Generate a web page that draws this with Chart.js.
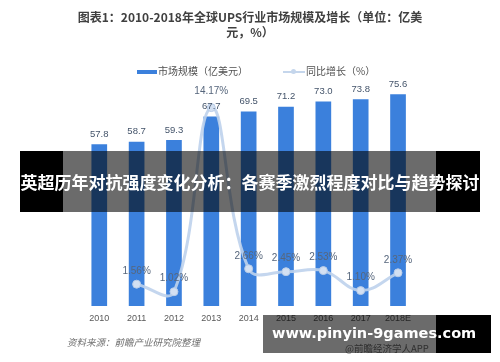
<!DOCTYPE html>
<html>
<head>
<meta charset="utf-8">
<script src="https://cdn.jsdelivr.net/npm/chart.js@4.4.1/dist/chart.umd.min.js"></script>
<style>
  body { margin: 0; background: #fff; }
  #wrap { position: relative; width: 500px; height: 362px; overflow: hidden; background: #fff;
          font-family: "Noto Sans CJK SC", "Noto Sans", sans-serif; }
  #c { position: absolute; left: 0; top: 0; }
  .title { position: absolute; left: 0; width: 500px; text-align: center; font-size: 12px;
           font-weight: bold; color: #404040; line-height: 15px; }
  .legend { position: absolute; top: 64px; font-size: 10px; color: #505050; line-height: 14px; white-space: nowrap; }
  .source { position: absolute; left: 67px; top: 335px; font-size: 9.5px; color: #707070; font-style: italic; }
  .app { position: absolute; left: 345px; top: 341px; font-size: 9.5px; color: #707070; }
  .banner-black { position: absolute; background: #000; }
  .banner-gray { position: absolute; background: rgba(0,0,0,0.58); }
  .banner-text { position: absolute; color: #fff; font-weight: bold; white-space: nowrap; }
</style>
</head>
<body>
<div id="wrap">
  <canvas id="c" width="500" height="362"></canvas>
  <div class="title" style="top:9px">图表1：2010-2018年全球UPS行业市场规模及增长（单位：亿美</div>
  <div class="title" style="top:24px">元，%）</div>
  <div class="legend" style="left:137px"><span style="display:inline-block;width:20px;height:4px;background:#3b80dc;vertical-align:middle;margin-right:1px"></span>市场规模（亿美元）</div>
  <div class="legend" style="left:283px"><span style="display:inline-block;width:22px;height:2px;background:#c5d6ec;vertical-align:middle;margin-right:1px;position:relative"><span style="position:absolute;left:8px;top:-2px;width:5px;height:5px;border-radius:50%;background:#c5d6ec"></span></span>同比增长（%）</div>
  <div class="source">资料来源：前瞻产业研究院整理</div>
  <div class="app">@前瞻经济学人APP</div>

  <!-- headline banner -->
  <div class="banner-black" style="left:20px;top:151px;width:43px;height:61px"></div>
  <div class="banner-gray" style="left:63px;top:151px;width:373px;height:61px"></div>
  <div class="banner-black" style="left:436px;top:151px;width:44px;height:61px"></div>
  <div class="banner-text" style="left:20px;top:168px;width:460px;text-align:center;font-size:17px;line-height:28px">英超历年对抗强度变化分析：各赛季激烈程度对比与趋势探讨</div>

  <!-- bottom watermark -->
  <div class="banner-gray" style="left:263px;top:315px;width:173px;height:38px"></div>
  <div class="banner-black" style="left:436px;top:315px;width:55px;height:38px"></div>
  <div class="banner-text" style="left:272px;top:321px;font-size:14.5px;line-height:24px;font-family:'DejaVu Sans',sans-serif">www.pinyin-9games.com</div>
</div>
<script>
// 数据
const years = ['2010', '2011', '2012', '2013', '2014', '2015', '2016', '2017', '2018E'];
const marketSize = [57.8, 58.7, 59.3, 67.7, 69.5, 71.2, 73.0, 73.8, 75.6];
const growthRate = [null, 1.56, 1.02, 14.17, 2.66, 2.45, 2.53, 1.10, 2.37];

// 数值标签
const valueLabels = {
  id: 'valueLabels',
  afterDatasetsDraw(chart) {
    const ctx = chart.ctx;
    ctx.save();
    ctx.textAlign = 'center';
    ctx.textBaseline = 'middle';
    chart.data.datasets.forEach((ds, i) => {
      chart.getDatasetMeta(i).data.forEach((el, j) => {
        const v = ds.data[j];
        if (v == null) return;
        if (ds.type === 'line') {
          ctx.font = '10px "Liberation Sans", sans-serif';
          ctx.fillStyle = '#56667c';
          ctx.fillText(v.toFixed(2) + '%', el.x, el.y - (v > 10 ? 16 : 13));
        } else {
          ctx.font = '9.5px "Liberation Sans", sans-serif';
          ctx.fillStyle = '#44546a';
          ctx.fillText(v.toFixed(1), el.x, el.y - 10);
        }
      });
    });
    ctx.restore();
  }
};

const ctx = document.getElementById('c').getContext('2d');
new Chart(ctx, {
  data: {
    labels: years,
    datasets: [{
      type: 'bar',
      label: '市场规模（亿美元）',
      data: marketSize,
      backgroundColor: '#3b80dc',
      yAxisID: 'y',
      barPercentage: 0.84,
      categoryPercentage: 0.5,
      order: 1
    }, {
      type: 'line',
      label: '同比增长（%）',
      data: growthRate,
      yAxisID: 'y1',
      borderColor: 'rgba(190,210,236,0.9)',
      borderWidth: 3,
      pointRadius: 4,
      pointBackgroundColor: '#d3e0f2',
      pointBorderColor: '#b8cce8',
      pointBorderWidth: 1,
      tension: 0.4,
      order: 0
    }]
  },
  options: {
    responsive: false,
    animation: false,
    layout: { padding: { left: 80.6, right: 83.3, top: 82, bottom: 36 } },
    plugins: { legend: { display: false }, tooltip: { enabled: false } },
    scales: {
      x: {
        grid: { display: false, drawTicks: false },
        border: { display: false },
        ticks: { color: '#595959', font: { size: 9, family: '"Liberation Sans", sans-serif' }, padding: 7 },
        afterFit: (scale) => { scale.height = 20; }
      },
      y: { display: false, min: 0, max: 80 },
      y1: { display: false, min: 0, max: 16 }
    }
  },
  plugins: [valueLabels]
});
</script>
</body>
</html>
